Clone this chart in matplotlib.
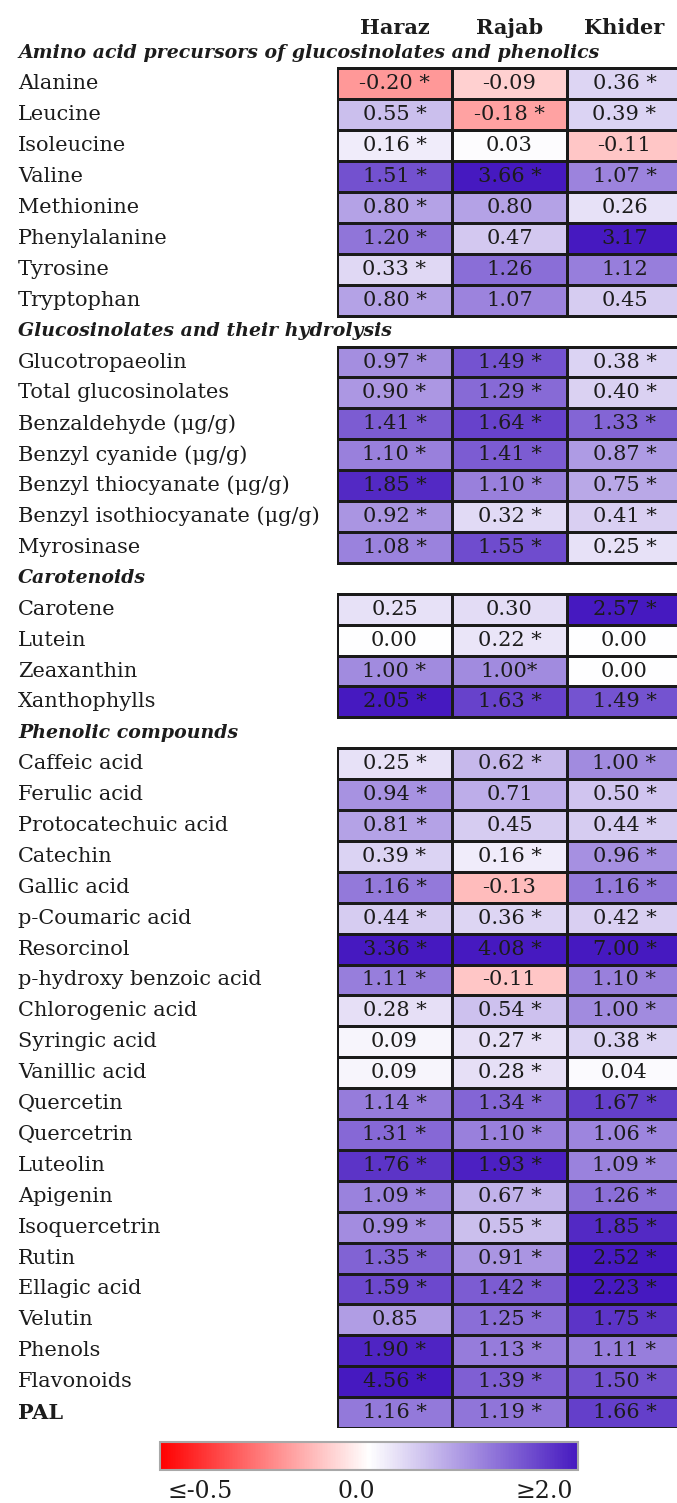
import matplotlib.pyplot as plt
import numpy as np
from matplotlib.colors import LinearSegmentedColormap, TwoSlopeNorm
from matplotlib.cm import ScalarMappable
from matplotlib import transforms

plt.rcParams['font.family'] = ['DejaVu Serif', 'Liberation Serif']

# Cultivars
cultivars = ['Haraz', 'Rajab', 'Khider']

# Fold changes per compound group (" *" = significant)
amino_title = 'Amino acid precursors of glucosinolates and phenolics'
amino_names = ['Alanine', 'Leucine', 'Isoleucine', 'Valine', 'Methionine',
               'Phenylalanine', 'Tyrosine', 'Tryptophan']
amino_vals = [
    ('-0.20 *', '-0.09', '0.36 *'),
    ('0.55 *', '-0.18 *', '0.39 *'),
    ('0.16 *', '0.03', '-0.11'),
    ('1.51 *', '3.66 *', '1.07 *'),
    ('0.80 *', '0.80', '0.26'),
    ('1.20 *', '0.47', '3.17'),
    ('0.33 *', '1.26', '1.12'),
    ('0.80 *', '1.07', '0.45'),
]

gluc_title = 'Glucosinolates and their hydrolysis'
gluc_names = ['Glucotropaeolin', 'Total glucosinolates', 'Benzaldehyde (μg/g)',
              'Benzyl cyanide (μg/g)', 'Benzyl thiocyanate (μg/g)',
              'Benzyl isothiocyanate (μg/g)', 'Myrosinase']
gluc_vals = [
    ('0.97 *', '1.49 *', '0.38 *'),
    ('0.90 *', '1.29 *', '0.40 *'),
    ('1.41 *', '1.64 *', '1.33 *'),
    ('1.10 *', '1.41 *', '0.87 *'),
    ('1.85 *', '1.10 *', '0.75 *'),
    ('0.92 *', '0.32 *', '0.41 *'),
    ('1.08 *', '1.55 *', '0.25 *'),
]

carot_title = 'Carotenoids'
carot_names = ['Carotene', 'Lutein', 'Zeaxanthin', 'Xanthophylls']
carot_vals = [
    ('0.25', '0.30', '2.57 *'),
    ('0.00', '0.22 *', '0.00'),
    ('1.00 *', '1.00*', '0.00'),
    ('2.05 *', '1.63 *', '1.49 *'),
]

phen_title = 'Phenolic compounds'
phen_names = ['Caffeic acid', 'Ferulic acid', 'Protocatechuic acid', 'Catechin',
              'Gallic acid', 'p-Coumaric acid', 'Resorcinol',
              'p-hydroxy benzoic acid', 'Chlorogenic acid', 'Syringic acid',
              'Vanillic acid', 'Quercetin', 'Quercetrin', 'Luteolin', 'Apigenin',
              'Isoquercetrin', 'Rutin', 'Ellagic acid', 'Velutin', 'Phenols',
              'Flavonoids', 'PAL']
phen_vals = [
    ('0.25 *', '0.62 *', '1.00 *'),
    ('0.94 *', '0.71', '0.50 *'),
    ('0.81 *', '0.45', '0.44 *'),
    ('0.39 *', '0.16 *', '0.96 *'),
    ('1.16 *', '-0.13', '1.16 *'),
    ('0.44 *', '0.36 *', '0.42 *'),
    ('3.36 *', '4.08 *', '7.00 *'),
    ('1.11 *', '-0.11', '1.10 *'),
    ('0.28 *', '0.54 *', '1.00 *'),
    ('0.09', '0.27 *', '0.38 *'),
    ('0.09', '0.28 *', '0.04'),
    ('1.14 *', '1.34 *', '1.67 *'),
    ('1.31 *', '1.10 *', '1.06 *'),
    ('1.76 *', '1.93 *', '1.09 *'),
    ('1.09 *', '0.67 *', '1.26 *'),
    ('0.99 *', '0.55 *', '1.85 *'),
    ('1.35 *', '0.91 *', '2.52 *'),
    ('1.59 *', '1.42 *', '2.23 *'),
    ('0.85', '1.25 *', '1.75 *'),
    ('1.90 *', '1.13 *', '1.11 *'),
    ('4.56 *', '1.39 *', '1.50 *'),
    ('1.16 *', '1.19 *', '1.66 *'),
]

sections = [
    (amino_title, amino_names, amino_vals),
    (gluc_title, gluc_names, gluc_vals),
    (carot_title, carot_names, carot_vals),
    (phen_title, phen_names, phen_vals),
]

cmap = LinearSegmentedColormap.from_list(
    'rwp', [(0.0, '#ff0000'), (0.5, '#ffffff'), (1.0, '#4619c0')])
norm = TwoSlopeNorm(vmin=-0.5, vcenter=0.0, vmax=2.0)

W, H = 677, 1503
fig = plt.figure(figsize=(W / 100, H / 100), dpi=100)

# table axes: one unit per column / row slot
ax = fig.add_axes([337 / W, (H - 1428) / H, 345 / W, (1428 - 37.6) / H])
ax.set_xlim(0, 3)
ax.set_ylim(45, 0)
ax.axis('off')

lab = transforms.blended_transform_factory(fig.transFigure, ax.transData)
fs = 15
ink = '#1c1c1c'

for j, name in enumerate(cultivars):
    ax.text(j + 0.5, -0.3, name, ha='center', va='center', fontsize=fs,
            fontweight='bold', color=ink, clip_on=False)


def to_num(s):
    return float(s.replace('*', '').strip())


slot = 0
for title, names, vals in sections:
    ax.text(18 / W, slot + 0.5, title, transform=lab, ha='left', va='center',
            fontsize=13.6, fontweight='bold', fontstyle='italic', color=ink)
    slot += 1
    z = np.array([[to_num(s) for s in row] for row in vals])
    ys = np.arange(slot, slot + len(names) + 1)
    ax.pcolormesh(np.arange(4), ys, z, cmap=cmap, norm=norm,
                  edgecolors='#1a1a1a', linewidth=1.0)
    for i, (name, row) in enumerate(zip(names, vals)):
        y = slot + i + 0.5
        ax.text(18 / W, y, name, transform=lab, ha='left', va='center',
                fontsize=fs, color=ink,
                fontweight='bold' if name == 'PAL' else 'normal')
        for j, s in enumerate(row):
            ax.text(j + 0.5, y, s, ha='center', va='center', fontsize=fs,
                    color=ink)
    slot += len(names)

# colour scale
cax = fig.add_axes([160 / W, (H - 1470) / H, 418 / W, 28 / H])
cb = fig.colorbar(ScalarMappable(norm=norm, cmap=cmap), cax=cax,
                  orientation='horizontal')
cb.set_ticks([])
cb.outline.set_edgecolor('#a8a8a8')
cb.outline.set_linewidth(1.5)
cax.text(0.019, -0.75, '≤-0.5', transform=cax.transAxes, ha='left',
         va='center', fontsize=17, color=ink)
cax.text(0.469, -0.75, '0.0', transform=cax.transAxes, ha='center',
         va='center', fontsize=17, color=ink)
cax.text(0.988, -0.75, '≥2.0', transform=cax.transAxes, ha='right',
         va='center', fontsize=17, color=ink)

fig.savefig('out.png', dpi=100)
